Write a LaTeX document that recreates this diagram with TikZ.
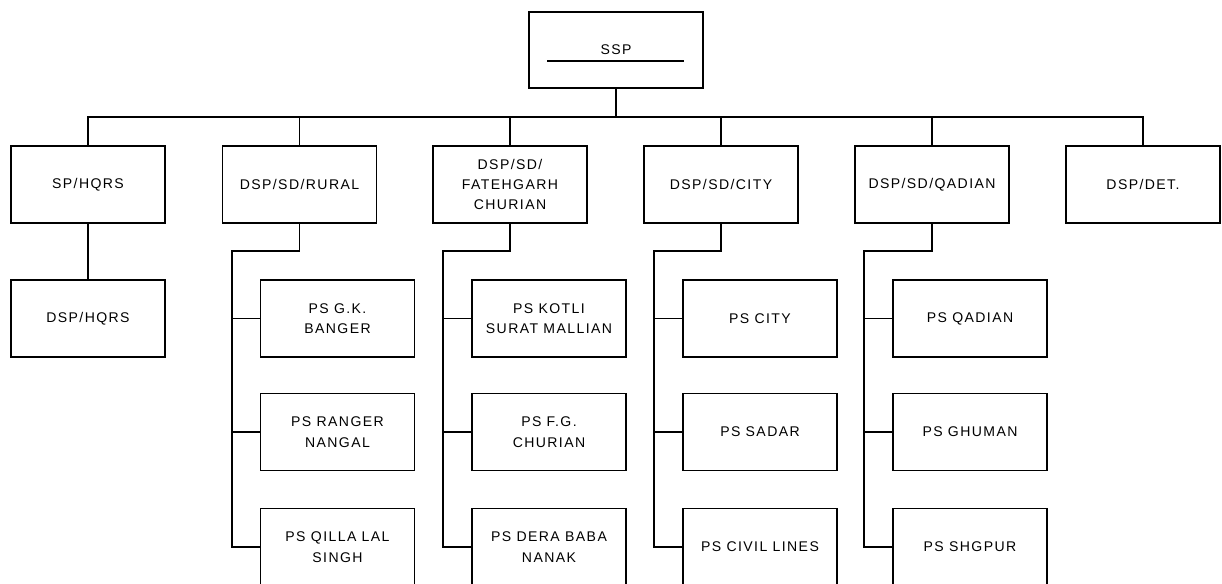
\documentclass[tikz,border=0pt]{standalone}
\usepackage{fontspec}
\newfontfamily\chartfont{Liberation Sans}[LetterSpace=10]

\tikzset{
	unit/.style={draw, minimum width=3.08cm, minimum height=1.54cm, inner sep=1pt,
		align=center, font=\chartfont\fontsize{8}{11.6}\selectfont},
	head/.style={unit, minimum width=3.48cm, minimum height=1.52cm}
}

\begin{document}
\begin{tikzpicture}[x=0.02cm, y=-0.02cm, line width=0.9pt]

	\useasboundingbox (0,0) rectangle (1222,583);

	% Top node.
	\node[head] (ssp) at (616,50) {SSP};
	\draw (547,61) -- (684,61);

	% Second row node definitions.
	\node[unit]       (sp_hqrs) at   (88,184.5) {SP/HQRS};
	\node[unit]     (dsp_rural) at (299.5,184.5) {DSP/SD/RURAL};
	\node[unit] (dsp_fatehgarh) at  (510,184.5) {DSP/SD/\\FATEHGARH\\CHURIAN};
	\node[unit]      (dsp_city) at  (721,184.5) {DSP/SD/CITY};
	\node[unit]    (dsp_qadian) at  (932,184.5) {DSP/SD/QADIAN};
	\node[unit]       (dsp_det) at (1143,184.5) {DSP/DET.};

	% Police station node definitions.
	\node[unit]   (dsp_hqrs) at   (88,318.5) {DSP/HQRS};
	\node[unit]  (ps_banger) at (337.5,318.5) {PS G.K.\\BANGER};
	\node[unit]  (ps_ranger) at (337.5,432)  {PS RANGER\\NANGAL};
	\node[unit]   (ps_qilla) at (337.5,547)  {PS QILLA LAL\\SINGH};
	\node[unit]   (ps_kotli) at  (549,318.5) {PS KOTLI\\SURAT MALLIAN};
	\node[unit]      (ps_fg) at  (549,432)  {PS F.G.\\CHURIAN};
	\node[unit]    (ps_dera) at  (549,547)  {PS DERA BABA\\NANAK};
	\node[unit]    (ps_city) at  (760,318.5) {PS CITY};
	\node[unit]   (ps_sadar) at  (760,432)  {PS SADAR};
	\node[unit]   (ps_civil) at  (760,547)  {PS CIVIL LINES};
	\node[unit]  (ps_qadian) at  (970,318.5) {PS QADIAN};
	\node[unit]  (ps_ghuman) at  (970,432)  {PS GHUMAN};
	\node[unit]  (ps_shgpur) at  (970,547)  {PS SHGPUR};

	% Bends.
	\coordinate           (bus) at (616,117);
	\coordinate    (rural_bend) at (232,251);
	\coordinate (fatehgarh_bend) at (443,251);
	\coordinate     (city_bend) at (654,251);
	\coordinate   (qadian_bend) at (864,251);

	% Lines.
	\draw           (ssp) -- (bus);
	\draw           (bus) -| (sp_hqrs);
	\draw           (bus) -| (dsp_rural);
	\draw           (bus) -| (dsp_fatehgarh);
	\draw           (bus) -| (dsp_city);
	\draw           (bus) -| (dsp_qadian);
	\draw           (bus) -| (dsp_det);
	\draw       (sp_hqrs) -- (dsp_hqrs);

	\draw     (dsp_rural) |- (rural_bend) |- (ps_qilla);
	\draw    (rural_bend) |- (ps_banger);
	\draw    (rural_bend) |- (ps_ranger);

	\draw (dsp_fatehgarh) |- (fatehgarh_bend) |- (ps_dera);
	\draw (fatehgarh_bend) |- (ps_kotli);
	\draw (fatehgarh_bend) |- (ps_fg);

	\draw      (dsp_city) |- (city_bend) |- (ps_civil);
	\draw     (city_bend) |- (ps_city);
	\draw     (city_bend) |- (ps_sadar);

	\draw    (dsp_qadian) |- (qadian_bend) |- (ps_shgpur);
	\draw   (qadian_bend) |- (ps_qadian);
	\draw   (qadian_bend) |- (ps_ghuman);

\end{tikzpicture}
\end{document}
